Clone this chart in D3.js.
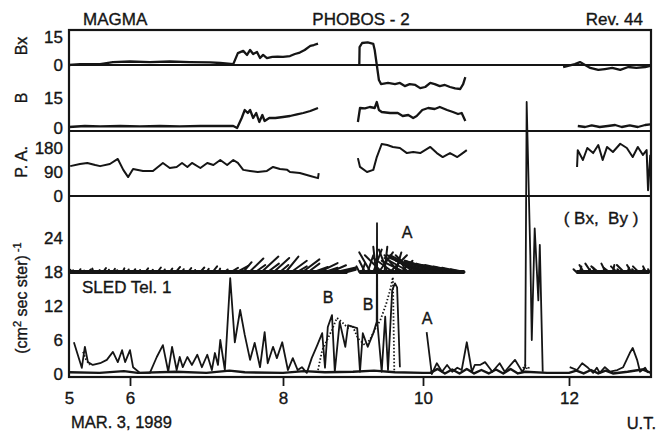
<!DOCTYPE html>
<html><head><meta charset="utf-8">
<script src="https://cdn.jsdelivr.net/npm/d3@7"></script>
<style>
html,body{margin:0;padding:0;background:#fff;}
svg{display:block;}
text{font-family:"Liberation Sans",Arial,Helvetica,sans-serif;fill:#151515;stroke:#151515;stroke-width:0.35px;}
</style></head><body>
<svg id="c" width="656" height="436"></svg>
<script>
// ---------- tick labels ----------
const hourTicks = [5, 6, 8, 10, 12];
const bxTicks = [0, 15];
const bTicks = [0, 15];
const paTicks = [0, 90, 180];
const fluxTicks = [0, 6, 12, 18, 24];

// ---------- magnetic field Bx (nT) : [U.T. hour, value] (null = data gap) ----------
const bxData = [[5.00,0],[5.18,0.5],[5.51,0.5],[5.72,1.6],[6.00,1.9],[6.26,1.6],[6.52,1.9],[6.78,1.6],[7.05,1.4],[7.18,1.1],[7.35,0.5],[7.41,6.5],[7.48,7.7],[7.53,5.5],[7.57,8.2],[7.61,6.0],[7.66,7.1],[7.70,3.8],[7.74,5.5],[7.79,3.8],[7.86,4.4],[7.93,4.6],[8.00,4.4],[8.10,4.9],[8.17,6.0],[8.24,6.8],[8.31,8.2],[8.39,10.4],[8.44,10.9],[8.50,11.7],[8.8,null],
[9.09,0],[9.094,9.8],[9.13,12.0],[9.21,12.3],[9.29,11.5],[9.31,8.2],[9.34,0],[9.37,-8.2],[9.40,-10.4],[9.50,-9.8],[9.60,-10.4],[9.67,-9.8],[9.74,-11.5],[9.81,-10.4],[9.89,-10.9],[9.96,-12.6],[10.03,-12.0],[10.10,-9.8],[10.16,-10.4],[10.23,-11.5],[10.30,-10.9],[10.37,-12.0],[10.44,-12.8],[10.51,-13.1],[10.55,-10.4],[10.58,-6.6],[11,null],
[11.92,-1.1],[12.08,0.5],[12.15,1.6],[12.22,0],[12.29,-1.6],[12.40,-2.7],[12.49,-2.2],[12.59,-1.6],[12.70,-2.7],[12.81,-1.1],[12.92,-1.6],[13.04,-1.1],[13.11,-0.5]];

// ---------- |B| (nT) ----------
const bData = [[5.00,0.5],[5.26,1],[5.51,0.8],[5.84,1],[6.13,0.8],[6.39,1],[6.65,0.8],[6.92,1],[7.18,1],[7.35,1],[7.40,0],[7.46,5],[7.50,9],[7.54,7.5],[7.57,9],[7.61,5],[7.65,7.5],[7.69,3],[7.73,6.5],[7.76,3.5],[7.82,5],[7.90,5],[8.00,5.5],[8.10,6],[8.20,6.8],[8.29,7.5],[8.39,8.5],[8.50,10],[8.8,null],
[9.07,3],[9.10,10],[9.17,9.8],[9.24,10.5],[9.31,10],[9.34,13],[9.37,9],[9.41,8],[9.53,7.5],[9.64,7.5],[9.71,6],[9.79,6.5],[9.86,5],[9.91,6],[9.99,9],[10.07,10],[10.16,9.5],[10.23,10.5],[10.33,9],[10.41,8],[10.48,7],[10.53,7.5],[10.58,3.5],[11,null],
[12.12,1],[12.22,0.5],[12.31,1.3],[12.42,0.5],[12.53,1],[12.63,1.5],[12.72,0.5],[12.83,1.3],[12.94,0.5],[13.04,1.5],[13.11,1.8]];

// ---------- pitch angle (deg) ----------
const paData = [[5.02,112],[5.18,120],[5.30,124],[5.43,116],[5.51,112],[5.67,120],[5.80,139],[5.89,98],[5.97,71],[6.04,101],[6.17,94],[6.30,94],[6.43,124],[6.52,105],[6.61,109],[6.68,124],[6.75,109],[6.81,124],[6.92,105],[7.01,124],[7.09,116],[7.18,135],[7.27,116],[7.35,135],[7.41,124],[7.48,98],[7.57,94],[7.67,90],[7.79,94],[7.87,109],[7.96,101],[8.06,98],[8.10,90],[8.24,86],[8.39,75],[8.50,67],[8.51,86],[8.8,null],
[9.07,142],[9.10,109],[9.20,90],[9.29,98],[9.34,146],[9.41,195],[9.49,191],[9.57,184],[9.67,180],[9.77,161],[9.86,165],[9.96,161],[10.10,184],[10.19,161],[10.27,146],[10.37,161],[10.47,146],[10.53,158],[10.60,172],[11,null],
[12.11,109],[12.12,172],[12.19,135],[12.25,180],[12.33,161],[12.40,191],[12.46,135],[12.52,184],[12.60,165],[12.70,196],[12.79,180],[12.87,146],[12.94,184],[13.01,154],[13.06,172],[13.08,22],[13.11,154]];

// ---------- SLED Tel. 1 flux, main channel ----------
const fluxData = [[5.08,5.6],[5.21,1.1],[5.26,4.8],[5.31,2.1],[5.39,1.6],[5.51,1.9],[5.62,2.5],[5.72,3.9],[5.80,2.1],[5.87,4.2],[5.92,2.1],[6.00,4.2],[6.04,1.2],[6.13,0.2],[6.26,0.2],[6.35,3.0],[6.43,5.1],[6.50,0.4],[6.55,4.8],[6.61,0.7],[6.65,3.0],[6.69,1.2],[6.75,3.0],[6.81,1.6],[6.88,3.4],[6.94,1.2],[7.01,3.4],[7.07,0.7],[7.11,3.7],[7.15,1.6],[7.18,6.0],[7.24,0.7],[7.31,16.9],[7.37,5.6],[7.44,11.3],[7.50,6.9],[7.57,2.5],[7.63,5.5],[7.70,1.2],[7.76,7.4],[7.80,1.9],[7.87,4.8],[7.92,2.8],[7.99,5.6],[8.07,0.7],[8.14,2.8],[8.21,0.7],[8.27,1.2],[8.34,0.2],[8.41,2.8],[8.49,5.1],[8.56,7.2],[8.60,1.1],[8.64,8.3],[8.70,10.4],[8.74,0.4],[8.81,9.2],[8.89,4.8],[8.93,8.6],[9.00,8.3],[9.06,8.1],[9.10,0.4],[9.14,7.2],[9.21,4.8],[9.29,7.2],[9.339,9.2],[9.343,26.6],[9.347,9.2],[9.41,0.4],[9.46,10.1],[9.50,0.7],[9.56,14.8],[9.60,16.0],[9.63,15.3],[9.67,1.2],[9.8,null],
[10.05,7.4],[10.12,0],[10.19,1.9],[10.26,0.4],[10.33,1.6],[10.40,0.4],[10.47,1.1],[10.53,0.7],[10.60,5.6],[10.67,0.4],[10.71,1.6],[10.78,1.6],[10.85,2.1],[10.95,0.4],[11.05,1.9],[11.12,0.4],[11.26,2.5],[11.36,0.4],[11.40,1.2],[11.42,48],[11.47,21],[11.49,6],[11.53,25.7],[11.58,13],[11.60,22.8],[11.64,0.4],[11.8,null],
[12.01,1.2],[12.11,0.7],[12.18,1.9],[12.26,1.1],[12.33,0.2],[12.38,1.1],[12.42,0.2],[12.49,1.2],[12.56,0.4],[12.66,0.7],[12.74,1.2],[12.83,3.7],[12.87,4.6],[12.93,2.5],[12.97,0.4],[13.04,1.1],[13.08,0.2]];

// ---------- second (dotted) channel ----------
const fluxDotted = [[5.23,3.9],[5.28,2.5],[5.34,1.6],[5.4,null],
[8.50,0.7],[8.56,4.2],[8.63,6.0],[8.70,7.8],[8.77,9.9],[8.84,9.2],[8.93,8.1],[8.99,8.6],[9.07,6.3],[9.17,5.1],[9.24,6.0],[9.31,7.8],[9.39,9.5],[9.47,12.2],[9.53,14.8],[9.57,17.1],[9.59,0.4],[9.7,null],
[11.37,1.0],[11.40,1.6],[11.43,0.8],[11.47,1.4]];

// ---------- low channel near zero ----------
const fluxLow = [[5.00,0.3],[5.5,0.2],[5.9,0.5],[6.1,0.2],[6.6,0.4],[7.0,0.2],[7.3,0.6],[7.5,0.3],[8.0,0.2],[8.3,0.5],[8.6,0.3],[9.0,0.4],[9.3,0.6],[9.6,0.3],[10.0,0.2],[10.1,0.2],[10.2,0.9],[10.3,0.1],[10.4,0.8],[10.5,0.1],[10.6,0.9],[10.7,0.1],[10.8,0.7],[10.9,0.1],[11.0,0.8],[11.1,0.1],[11.2,0.9],[11.3,0.1],[11.4,0.4],[11.7,0.2],[12.0,0.2],[12.1,0.6],[12.2,0.1],[12.3,0.7],[12.4,0.1],[12.5,0.6],[12.6,0.1],[12.8,0.4],[13.0,0.8],[13.12,0.2]];

// ---------- (Bx, By) hedgehog vectors, regularly sampled ----------
const hhStarts = [5.0, 9.09, 12.1];
const hhSteps = [0.08, 0.04, 0.05];
const hhVec1 = [[0.5,0.8],[-0.3,0.6],[0.6,1.0],[0.2,0.5],[0.8,0.9],[-0.4,1.2],[0.5,0.7],[1.0,1.4],[0.3,0.8],[0.7,1.1],[-0.2,0.6],[0.6,1.3],[0.4,0.9],
[0.8,1.0],[0.3,0.7],[1.0,1.3],[0.5,0.8],[1.2,1.6],[0.4,0.9],[0.9,1.2],[1.5,1.8],[0.6,1.0],[1.1,1.4],[0.3,0.7],[1.4,1.6],[0.8,1.1],[1.6,2.0],[0.5,1.2],[1.0,0.9],
[2.5,1.5],[4.0,2.2],[3.0,3.5],[5.0,4.8],[3.5,2.5],[6.0,5.5],[4.0,3.0],[5.5,5.0],[3.0,2.5],
[4.5,5.5],[5.5,4.0],[3.5,2.0],[6.0,4.5],[4.0,3.0],[5.0,1.8],[6.5,3.2],[4.5,1.5],[5.5,2.4],[7.0,1.6],[5.0,1.2],[3.0,0.8]];
const hhVec2 = [[-1,2],[1,3],[-2,4],[2,6],[-4,7],[3,8],[-1,9],[5,7],[-6,6],[1,9],[-3,8],[6,6],[-7,5],[2,7],[-5,6],[4,4],[-8,4],[-3,5],[-9,5],[-6,6],[-10,6],[-7,4],[-11,6],[-12,5],[-9,3],[-12,4],[-10,3],[-11,4],[-12,3.5],[-13,4],[-11,3],[-9,2.5],[-12,3],[-10,2],[-11,2.5],[-9,2],[-7,1.5],[-5,1]];
const hhVec3 = [[-1,1],[0.5,2],[-1.5,2.5],[1,1],[-2,3],[-0.5,1.5],[-2.5,2],[1,1],[-1.5,3],[-2,1.5],[0.5,2.5],[-2,2],[-1,1],[-2.5,2.5],[0.5,1.5],[-1.5,2.5],[-1,1],[-2,2],[0.5,1],[-1,2],[-0.5,1]];
const hhBase = 18;

// ---------- layout ----------
const ink = "#151515";
const L = 69, R = 651, T = 30, BOT = 377;
const svg = d3.select("#c");

const x = d3.scaleLinear().domain([5,6,8,10,12,13.12]).range([69,130,283,423,569,651]);
const yBx = d3.scaleLinear().domain([0,15]).range([65,37.5]);
const yB = d3.scaleLinear().domain([0,15]).range([128,98]);
const yPA = d3.scaleLinear().domain([0,180]).range([196,148]);
const yF = d3.scaleLinear().domain([0,24]).range([374,238]);

// frame
const frame = svg.append("g").attr("stroke", ink).attr("fill","none");
frame.append("rect").attr("x",L).attr("y",T).attr("width",R-L).attr("height",BOT-T).attr("stroke-width",2.2);
frame.append("line").attr("x1",L).attr("x2",R).attr("y1",yBx(0)).attr("y2",yBx(0)).attr("stroke-width",2);
frame.append("line").attr("x1",L).attr("x2",R).attr("y1",131).attr("y2",131).attr("stroke-width",2.2);
frame.append("line").attr("x1",L).attr("x2",R).attr("y1",196).attr("y2",196).attr("stroke-width",2.2);

// y axes labels via d3 axes
function yAxis(scale, ticks){
  const g = svg.append("g").attr("transform",`translate(${L},0)`)
    .call(d3.axisLeft(scale).tickValues(ticks).tickSize(0).tickPadding(6).tickFormat(d3.format("d")));
  g.select(".domain").remove();
  g.selectAll("text").attr("font-size",17);
}
yAxis(yBx, bxTicks); yAxis(yB, bTicks); yAxis(yPA, paTicks); yAxis(yF, fluxTicks);

// x axis
const xa = svg.append("g").attr("transform",`translate(0,${BOT})`)
  .call(d3.axisBottom(x).tickValues(hourTicks).tickSize(9).tickPadding(6).tickFormat(d3.format("d")));
xa.select(".domain").remove();
xa.selectAll("line").attr("stroke",ink).attr("stroke-width",1.8).filter(d=>d===5).remove();
xa.selectAll("text").attr("font-size",17);

// line generator
function drawLine(data, yScale, opts){
  const gen = d3.line().defined(d=>d[1]!==null).x(d=>x(d[0])).y(d=>yScale(d[1])).curve(d3.curveLinear);
  return svg.append("path").datum(data).attr("d",gen).attr("fill","none").attr("stroke",ink)
    .attr("stroke-width",opts.w||1.8).attr("stroke-linejoin","round").attr("stroke-dasharray",opts.dash||null);
}
drawLine(bxData, yBx, {w:2.3});
drawLine(bData, yB, {w:2.3});
drawLine(paData, yPA, {w:2});
drawLine(fluxLow, yF, {w:2.4});
drawLine(fluxDotted, yF, {w:1.8, dash:"1.5,2"});
drawLine(fluxData, yF, {w:1.8});

// hedgehog
const pxPerNT = 2.8;
[[hhVec1,0],[hhVec2,1],[hhVec3,2]].forEach(([vecs,i])=>{
  const t0 = hhStarts[i], st = hhSteps[i];
  const tEnd = t0 + st*(vecs.length-1);
  svg.append("line").attr("x1",x(t0)).attr("x2",x(tEnd)).attr("y1",yF(hhBase)).attr("y2",yF(hhBase))
    .attr("stroke",ink).attr("stroke-width",3.8);
  svg.append("g").selectAll("line").data(vecs).join("line")
    .attr("x1",(d,j)=>x(t0+st*j)).attr("y1",yF(hhBase))
    .attr("x2",(d,j)=>x(t0+st*j)+d[0]*pxPerNT).attr("y2",d=>yF(hhBase)-d[1]*pxPerNT)
    .attr("stroke",ink).attr("stroke-width",2).attr("stroke-linecap","round");
});

// texts
function txt(s, xx, yy, size, anchor){
  return svg.append("text").attr("x",xx).attr("y",yy).attr("font-size",size).attr("text-anchor",anchor||"start").text(s);
}
txt("MAGMA", 83, 25, 17);
txt("PHOBOS - 2", 361, 25, 17, "middle");
txt("Rev. 44", 643, 25, 17, "end");
txt("MAR. 3, 1989", 71, 428, 16.5);
txt("U.T.", 656, 429, 16.5, "end");
txt("SLED Tel. 1", 82, 293, 17);
svg.append("text").attr("x",601).attr("y",224).attr("font-size",17).attr("text-anchor","middle")
  .attr("xml:space","preserve").text("( Bx,  By )");
txt("A", 407, 238, 16, "middle");
txt("B", 328, 303, 16, "middle");
txt("B", 368, 310, 16, "middle");
txt("A", 427, 324, 16, "middle");

function rot(s, cx, cy, size){
  return svg.append("text").attr("transform",`translate(${cx},${cy}) rotate(-90)`).attr("font-size",size).attr("text-anchor","middle").text(s);
}
rot("Bx", 27, 46, 16);
rot("B", 27, 98, 16);
rot("P. A.", 27, 162, 16);
const fl = svg.append("text").attr("transform","translate(27,298) rotate(-90)").attr("font-size",16).attr("text-anchor","middle");
fl.append("tspan").text("(cm");
fl.append("tspan").attr("dy",-6).attr("font-size",11).text("2");
fl.append("tspan").attr("dy",6).text(" sec ster)");
fl.append("tspan").attr("dy",-6).attr("font-size",11).text(" -1");
</script>
</body></html>
